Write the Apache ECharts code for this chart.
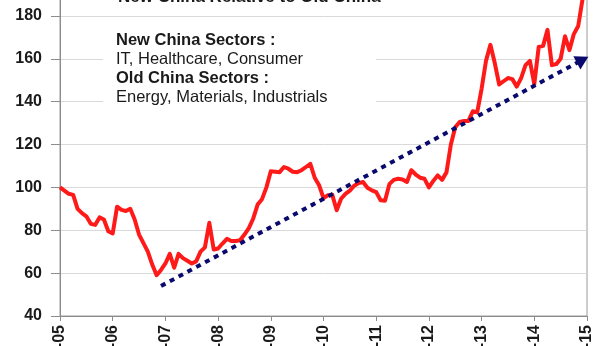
<!DOCTYPE html>
<html>
<head>
<meta charset="utf-8">
<script src="https://cdn.jsdelivr.net/npm/echarts@6/dist/echarts.min.js"></script>
<style>
html,body{margin:0;padding:0;background:#fff;}
#chart{width:616px;height:346px;}
</style>
</head>
<body>
<div id="chart"></div>
<script>
// Year tick labels (one per January, Jan-05 ... Jan-15)
var yearLabels = ['-05','-06','-07','-08','-09','-10','-11','-12','-13','-14','-15'];
// Monthly index: New China relative to Old China (Jan-05 = 100)
var relativeIndex = [
  100, 98.5, 97, 96.5, 90, 88, 86.5, 83, 82.5, 86, 85, 79.5,
  78.5, 91, 89.5, 89, 90, 85, 78, 74, 70, 64, 59, 61.5,
  64.5, 69, 62.5, 69, 67, 65.8, 64.5, 65.5, 70, 72, 83.5, 71,
  71.5, 73.8, 76, 75, 75, 75.3, 78, 81, 85.5, 92, 94.5, 100,
  107.5, 107.3, 107.1, 109.5, 108.7, 107.3, 107.1, 108, 109.5, 111, 104.5, 101,
  95, 96.3, 96.5, 89.3, 94.7, 97, 98.5, 100.8, 102, 102.5, 99.8, 98.6,
  97.8, 94, 93.8, 101.5, 103.5, 104, 103.7, 102.5, 108, 106, 104.5, 104,
  100, 103, 105.6, 103.5, 107, 120, 128, 130.5, 131, 131, 135.5, 135,
  146, 159, 166.5, 158, 148, 149.5, 151, 150.5, 147, 151, 157, 159,
  148.2, 165.5, 166, 173.5, 157, 157.5, 160, 170.5, 164, 171.5, 175.3, 188
];
// Trend arrow: [month index, value]
var trendStart = [23, 54];
var trendEnd = [119, 159.5];
var yTicks = [40, 60, 80, 100, 120, 140, 160, 180, 200];

var chart = echarts.init(document.getElementById('chart'), null, {renderer: 'canvas'});
var FONT = 'Liberation Sans, Arial, sans-serif';

var option = {
  animation: false,
  backgroundColor: '#ffffff',
  grid: {
    left: 60, right: 29, top: -27, bottom: 30,
    outerBoundsMode: 'none', containLabel: false,
    show: true, borderColor: '#9a9a9a', borderWidth: 1, backgroundColor: 'transparent'
  },
  xAxis: {
    type: 'value', min: 0, max: 120, interval: 12,
    axisLine: {show: true, lineStyle: {color: '#8c8c8c', width: 1}},
    axisTick: {show: true, length: 5, lineStyle: {color: '#8c8c8c'}},
    splitLine: {show: false},
    axisLabel: {
      rotate: 90, margin: 9,
      fontFamily: FONT, fontSize: 16, fontWeight: 'bold', color: '#1a1a1a',
      formatter: function (v) { return yearLabels[Math.round(v / 12)]; }
    }
  },
  yAxis: {
    type: 'value', min: yTicks[0], max: yTicks[yTicks.length - 1], interval: 20,
    axisLine: {show: true, lineStyle: {color: '#8c8c8c', width: 1}},
    axisTick: {show: true, length: 9, lineStyle: {color: '#8c8c8c'}},
    splitLine: {show: true, lineStyle: {color: '#d9d9d9', width: 1}},
    axisLabel: {
      margin: 18, fontFamily: FONT, fontSize: 16, fontWeight: 'bold', color: '#1a1a1a'
    }
  },
  series: [{
    type: 'line',
    name: 'New China relative to Old China',
    data: relativeIndex.map(function (v, i) { return [i, v]; }),
    symbol: 'none',
    lineStyle: {color: '#ff1a1a', width: 4, join: 'round'},
    z: 2,
    markLine: {
      silent: true,
      symbol: ['none', 'triangle'],
      symbolSize: [15, 13],
      label: {show: false},
      lineStyle: {color: '#0a0a6e', width: 4, type: [5, 5], cap: 'butt'},
      data: [[
        {coord: [trendStart[0], trendStart[1]]},
        {coord: [trendEnd[0], trendEnd[1]]}
      ]]
    }
  }],
  graphic: [
    {
      type: 'rect', left: 103, top: 20, z: 10,
      shape: {width: 273, height: 92},
      style: {fill: '#ffffff'}
    },
    {
      type: 'text', x: 118, y: -3, z: 11,
      style: {text: 'New China Relative to Old China', font: 'bold 17px ' + FONT,
              fill: '#1a1a1a', verticalAlign: 'middle'}
    },
    {
      type: 'text', x: 116, y: 40, z: 11,
      style: {text: 'New China Sectors :', font: 'bold 16.5px ' + FONT,
              fill: '#1a1a1a', verticalAlign: 'middle'}
    },
    {
      type: 'text', x: 116, y: 59, z: 11,
      style: {text: 'IT, Healthcare, Consumer', font: '16.5px ' + FONT,
              fill: '#1a1a1a', verticalAlign: 'middle'}
    },
    {
      type: 'text', x: 116, y: 78, z: 11,
      style: {text: 'Old China Sectors :', font: 'bold 16.5px ' + FONT,
              fill: '#1a1a1a', verticalAlign: 'middle'}
    },
    {
      type: 'text', x: 116, y: 97, z: 11,
      style: {text: 'Energy, Materials, Industrials', font: '16.5px ' + FONT,
              fill: '#1a1a1a', verticalAlign: 'middle'}
    }
  ]
};
chart.setOption(option);
</script>
</body>
</html>
